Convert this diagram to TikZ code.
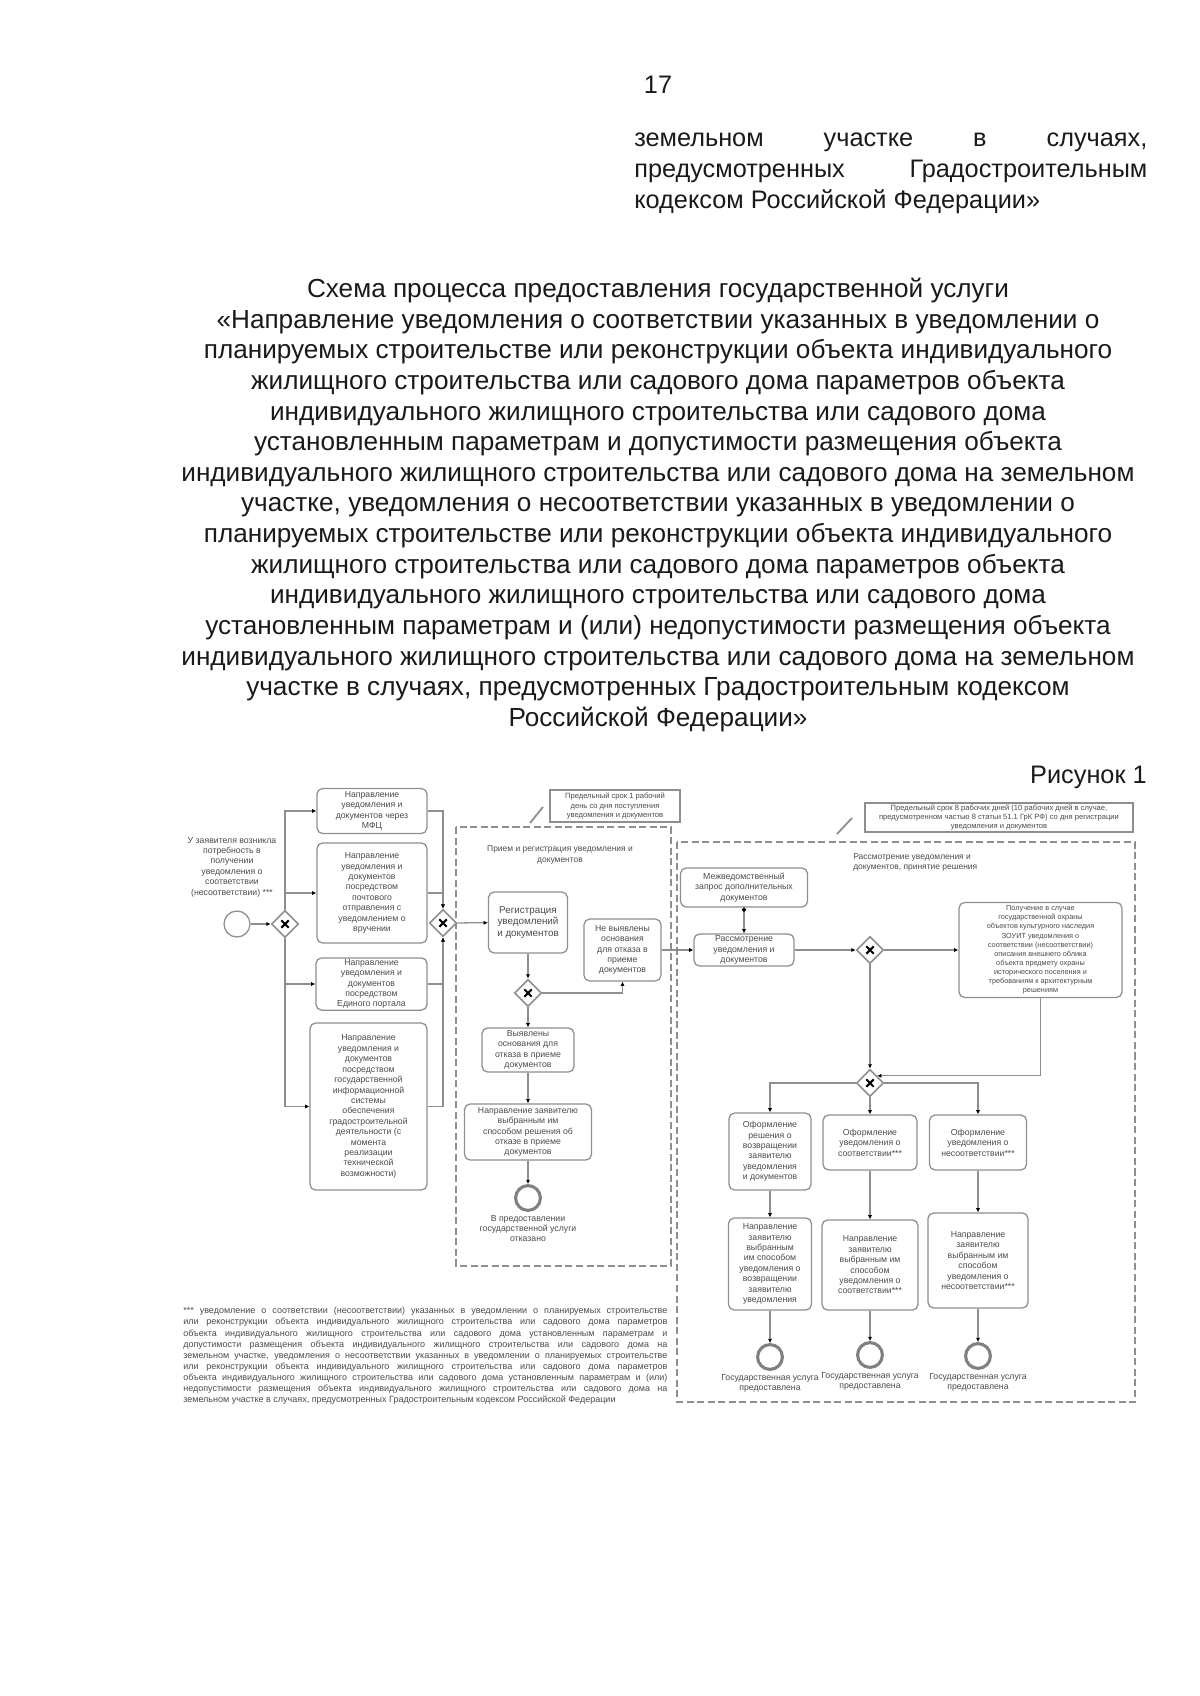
\documentclass[tikz,border=0pt]{standalone}
\usepackage{fontspec}
\setmainfont{Liberation Sans}
\usetikzlibrary{shapes.geometric,arrows.meta,positioning}
\definecolor{pagetext}{HTML}{1A1A1A}
\definecolor{linegray}{HTML}{8E8E8E}
\definecolor{boxtext}{HTML}{4A4A4A}
\newcommand{\pagefont}{\fontsize{18}{21.8}\selectfont}
\newcommand{\titlefont}{\fontsize{18.6}{21.8}\selectfont}
\newcommand{\dfont}{\fontsize{6.2}{7.4}\selectfont}

\begin{document}
\begin{tikzpicture}[x=0.025cm,y=-0.025cm,
	task/.style={draw=linegray,line width=0.9pt,rounded corners=4pt,align=center,inner sep=1pt,text=boxtext,font=\dfont},
	note/.style={draw=linegray,line width=1pt,align=center,inner sep=1pt,text=boxtext,font=\fontsize{5.4}{6.5}\selectfont},
	gate/.style={diamond,draw=linegray,line width=1.2pt,minimum size=0.68cm,inner sep=0pt,
		path picture={\draw[black,line width=1.5pt]
			([shift={(-2.6pt,-2.6pt)}]path picture bounding box.center) -- ([shift={(2.6pt,2.6pt)}]path picture bounding box.center)
			([shift={(-2.6pt,2.6pt)}]path picture bounding box.center) -- ([shift={(2.6pt,-2.6pt)}]path picture bounding box.center);}},
	startev/.style={circle,draw=linegray,line width=0.9pt,minimum size=0.65cm,inner sep=0pt},
	endev/.style={circle,draw=gray,line width=2.2pt,minimum size=0.62cm,inner sep=0pt},
	flow/.style={draw=linegray,line width=0.9pt,-{Latex[length=3pt,width=3pt,color=black]}},
	pool/.style={draw=linegray,line width=0.8pt,dash pattern=on 5pt off 2.5pt},
	assoc/.style={draw=linegray,line width=1.3pt},
	small/.style={text=boxtext,align=center,inner sep=0pt,font=\dfont}
]
	\useasboundingbox (0,0) rectangle (1200,1696);

	% Page text
	\node[font=\pagefont,text=pagetext] (pagenum) at (658,85) {17};
	\node[anchor=north west,inner sep=0pt,text width=12.825cm,align=justify,font=\pagefont,text=pagetext] (headref) at (634,133)
		{земельном участке в случаях,\linebreak предусмотренных Градостроительным\linebreak кодексом Российской Федерации»};
	\node[align=center,inner sep=0pt,font=\titlefont,text=pagetext] (title) at (658,505)
		{Схема процесса предоставления государственной услуги\\
		«Направление уведомления о соответствии указанных в уведомлении о\\
		планируемых строительстве или реконструкции объекта индивидуального\\
		жилищного строительства или садового дома параметров объекта\\
		индивидуального жилищного строительства или садового дома\\
		установленным параметрам и допустимости размещения объекта\\
		индивидуального жилищного строительства или садового дома на земельном\\
		участке, уведомления о несоответствии указанных в уведомлении о\\
		планируемых строительстве или реконструкции объекта индивидуального\\
		жилищного строительства или садового дома параметров объекта\\
		индивидуального жилищного строительства или садового дома\\
		установленным параметрам и (или) недопустимости размещения объекта\\
		индивидуального жилищного строительства или садового дома на земельном\\
		участке в случаях, предусмотренных Градостроительным кодексом\\
		Российской Федерации»};
	\node[anchor=east,inner sep=0pt,font=\pagefont,text=pagetext] (figlabel) at (1147,777) {Рисунок 1};

	% Pools and notes
	\draw[pool] (456,827) rectangle (671,1266);
	\draw[pool] (677,842) rectangle (1135,1402);
	\node[small,font=\fontsize{6}{7.2}\selectfont] (pooltitle1) at (560,855) {Прием и регистрация уведомления и\\документов};
	\node[small,anchor=north west,align=left,font=\fontsize{6}{7.2}\selectfont] (pooltitle2) at (853,853) {Рассмотрение уведомления и\\документов, принятие решения};
	\node[note,minimum width=3.25cm,minimum height=0.8cm] (note1) at (615,806)
		{Предельный срок 1 рабочий\\день со дня поступления\\уведомления и документов};
	\node[note,minimum width=6.7cm,minimum height=0.725cm] (note2) at (999,817.5)
		{Предельный срок 8 рабочих дней (10 рабочих дней в случае,\\предусмотренном частью 8 статьи 51.1 ГрК РФ) со дня регистрации\\уведомления и документов};
	\coordinate (n1tail) at (530,823);
	\coordinate (n1head) at (543,807);
	\coordinate (n2tail) at (837,834);
	\coordinate (n2head) at (852,818);
	\draw[assoc] (n1tail) -- (n1head);
	\draw[assoc] (n2tail) -- (n2head);

	% Applicant and ways of submission
	\node[small] (applicant) at (232,867) {У заявителя возникла\\потребность в\\получении\\уведомления о\\соответствии\\(несоответствии) ***};
	\node[startev] (start) at (237,924) {};
	\node[gate] (gw1) at (285,924) {};
	\node[task,minimum width=2.75cm,minimum height=1.125cm] (b_mfc) at (372,811)
		{Направление\\уведомления и\\документов через\\МФЦ};
	\node[task,minimum width=2.75cm,minimum height=2.5cm] (b_post) at (372,893)
		{Направление\\уведомления и\\документов\\посредством\\почтового\\отправления с\\уведомлением о\\вручении};
	\node[task,minimum width=2.775cm,minimum height=1.3cm] (b_epgu) at (371.5,984)
		{Направление\\уведомления и\\документов\\посредством\\Единого портала};
	\node[task,minimum width=2.925cm,minimum height=4.175cm] (b_gis) at (368.5,1106.5)
		{Направление\\уведомления и\\документов\\посредством\\государственной\\информационной\\системы\\обеспечения\\градостроительной\\деятельности (с\\момента\\реализации\\технической\\возможности)};
	\node[gate] (gw2) at (443,923) {};

	% Reception
	\node[task,minimum width=1.975cm,minimum height=1.525cm,font=\fontsize{7}{8.3}\selectfont] (b_reg) at (528,922.5)
		{Регистрация\\уведомлений\\и документов};
	\node[gate] (gw3) at (528,993) {};
	\node[task,minimum width=1.925cm,minimum height=1.55cm] (b_noref) at (622.5,950)
		{Не выявлены\\основания\\для отказа в\\приеме\\документов};
	\node[task,minimum width=2.3cm,minimum height=1.1cm] (b_ref) at (528,1050)
		{Выявлены\\основания для\\отказа в приеме\\документов};
	\node[task,minimum width=3.175cm,minimum height=1.4cm] (b_sendref) at (528,1132)
		{Направление заявителю\\выбранным им\\способом решения об\\отказе в приеме\\документов};
	\node[endev] (end_ref) at (528,1198) {};
	\node[small,below=2pt of end_ref] (end_reflabel) {В предоставлении\\государственной услуги\\отказано};

	% Consideration
	\node[task,minimum width=3.175cm,minimum height=0.975cm] (b_req) at (744,887.5)
		{Межведомственный\\запрос дополнительных\\документов};
	\node[task,minimum width=2.5cm,minimum height=0.8cm] (b_review) at (744,950)
		{Рассмотрение\\уведомления и\\документов};
	\node[gate] (gw4) at (870,950) {};
	\node[task,minimum width=4.075cm,minimum height=2.375cm,font=\fontsize{5.2}{6.5}\selectfont] (b_okn) at (1040.5,950)
		{Получение в случае\\государственной охраны\\объектов культурного наследия\\ЗОУИТ уведомления о\\соответствии (несоответствии)\\описания внешнего облика\\объекта предмету охраны\\исторического поселения и\\требованиям к архитектурным\\решениям};
	\node[gate] (gw5) at (870,1083) {};

	% Decisions
	\node[task,minimum width=2.05cm,minimum height=1.925cm] (b_ret) at (770,1151.5)
		{Оформление\\решения о\\возвращении\\заявителю\\уведомления\\и документов};
	\node[task,minimum width=2.35cm,minimum height=1.375cm] (b_ok) at (870,1142.5)
		{Оформление\\уведомления о\\соответствии***};
	\node[task,minimum width=2.425cm,minimum height=1.375cm] (b_nok) at (978,1142.5)
		{Оформление\\уведомления о\\несоответствии***};
	\node[task,minimum width=2.075cm,minimum height=2.3cm] (b_sendret) at (770,1264)
		{Направление\\заявителю\\выбранным\\им способом\\уведомления о\\возвращении\\заявителю\\уведомления};
	\node[task,minimum width=2.4cm,minimum height=2.25cm] (b_sendok) at (870,1265)
		{Направление\\заявителю\\выбранным им\\способом\\уведомления о\\соответствии***};
	\node[task,minimum width=2.5cm,minimum height=2.375cm] (b_sendnok) at (978,1260.5)
		{Направление\\заявителю\\выбранным им\\способом\\уведомления о\\несоответствии***};
	\node[endev] (end_ret) at (770,1357) {};
	\node[endev] (end_ok) at (870,1355) {};
	\node[endev] (end_nok) at (978,1356) {};
	\node[small,below=2pt of end_ret] (end_retlabel) {Государственная услуга\\предоставлена};
	\node[small,below=2pt of end_ok] (end_oklabel) {Государственная услуга\\предоставлена};
	\node[small,below=2pt of end_nok] (end_noklabel) {Государственная услуга\\предоставлена};

	% Footnote
	\node[anchor=north west,inner sep=0pt,text width=12.1cm,align=justify,text=boxtext,font=\fontsize{6.4}{7.9}\selectfont] (footnote) at (183,1307)
		{*** уведомление о соответствии (несоответствии) указанных в уведомлении о планируемых строительстве\linebreak
		или реконструкции объекта индивидуального жилищного строительства или садового дома параметров\linebreak
		объекта индивидуального жилищного строительства или садового дома установленным параметрам и\linebreak
		допустимости размещения объекта индивидуального жилищного строительства или садового дома на\linebreak
		земельном участке, уведомления о несоответствии указанных в уведомлении о планируемых строительстве\linebreak
		или реконструкции объекта индивидуального жилищного строительства или садового дома параметров\linebreak
		объекта индивидуального жилищного строительства или садового дома установленным параметрам и (или)\linebreak
		недопустимости размещения объекта индивидуального жилищного строительства или садового дома на\linebreak
		земельном участке в случаях, предусмотренных Градостроительным кодексом Российской Федерации};

	% Draw flows
	\draw[flow] (start) -- (gw1);
	\draw[flow] (gw1.north) |- (b_mfc.west);
	\draw[flow] (gw1.north) |- (b_post.west);
	\draw[flow] (gw1.south) |- (b_epgu.west);
	\draw[flow] (gw1.south) |- (b_gis.west);
	\draw[flow] (b_mfc.east) -| (gw2.north);
	\draw[flow] (b_post.east) -| (gw2.north);
	\draw[flow] (b_epgu.east) -| (gw2.south);
	\draw[flow] (b_gis.east) -| (gw2.south);
	\draw[flow] (gw2) -- (b_reg);
	\draw[flow] (b_reg) -- (gw3);
	\draw[flow] (gw3.east) -| (b_noref.south);
	\draw[flow] (gw3) -- (b_ref);
	\draw[flow] (b_ref) -- (b_sendref);
	\draw[flow] (b_sendref) -- (end_ref);
	\draw[flow] (b_noref) -- (b_review);
	\draw[flow,{Circle[length=3pt,color=black]}-{Latex[length=3pt,width=3pt,color=black]}] (b_req) -- (b_review);
	\draw[flow] (b_review) -- (gw4);
	\draw[flow] (gw4) -- (b_okn);
	\draw[flow] (gw4) -- (gw5);
	\draw[flow] (b_okn.south) |- (gw5.north east);
	\draw[flow] (gw5.west) -| (b_ret.north);
	\draw[flow] (gw5) -- (b_ok);
	\draw[flow] (gw5.east) -| (b_nok.north);
	\draw[flow] (b_ret) -- (b_sendret);
	\draw[flow] (b_ok) -- (b_sendok);
	\draw[flow] (b_nok) -- (b_sendnok);
	\draw[flow] (b_sendret) -- (end_ret);
	\draw[flow] (b_sendok) -- (end_ok);
	\draw[flow] (b_sendnok) -- (end_nok);
\end{tikzpicture}
\end{document}
